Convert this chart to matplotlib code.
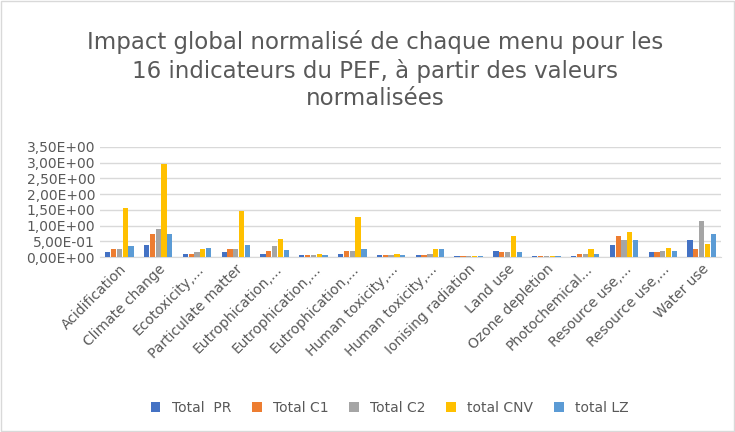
import matplotlib
matplotlib.use("Agg")
import matplotlib.pyplot as plt
import numpy as np
from matplotlib.ticker import FuncFormatter

categories = ["Acidification", "Climate change", "Ecotoxicity,...", "Particulate matter",
              "Eutrophication,...", "Eutrophication,...", "Eutrophication,...",
              "Human toxicity,...", "Human toxicity,...", "Ionising radiation", "Land use",
              "Ozone depletion", "Photochemical...", "Resource use,...", "Resource use,...", "Water use"]
total_pr  = [0.15, 0.38, 0.10, 0.15, 0.10, 0.05, 0.10, 0.05, 0.05, 0.04, 0.20, 0.04, 0.04, 0.38, 0.15, 0.53]
total_c1  = [0.25, 0.73, 0.10, 0.25, 0.20, 0.05, 0.20, 0.05, 0.05, 0.04, 0.15, 0.04, 0.10, 0.68, 0.15, 0.25]
total_c2  = [0.25, 0.88, 0.15, 0.25, 0.35, 0.05, 0.20, 0.05, 0.10, 0.04, 0.15, 0.04, 0.10, 0.53, 0.20, 1.13]
total_cnv = [1.57, 2.95, 0.25, 1.45, 0.58, 0.10, 1.27, 0.10, 0.25, 0.04, 0.68, 0.04, 0.25, 0.78, 0.30, 0.42]
total_lz  = [0.35, 0.73, 0.30, 0.38, 0.22, 0.05, 0.25, 0.05, 0.25, 0.04, 0.15, 0.04, 0.10, 0.53, 0.20, 0.73]
series = [("Total  PR", total_pr, "#4472C4"), ("Total C1", total_c1, "#ED7D31"),
          ("Total C2", total_c2, "#A5A5A5"), ("total CNV", total_cnv, "#FFC000"),
          ("total LZ", total_lz, "#5B9BD5")]

fig = plt.figure(figsize=(7.35, 4.32), dpi=100)
ax = fig.add_axes([0.136, 0.405, 0.845, 0.255])
x = np.arange(len(categories))
w = 0.15
for i, (name, vals, col) in enumerate(series):
    ax.bar(x + (i - 2) * w, vals, w * 0.9, color=col, label=name, zorder=3)
ax.set_ylim(0, 3.5)
ax.set_yticks(np.arange(0, 3.51, 0.5))
def fmt(v, p):
    if v == 0:
        return "0,00E+00"
    s = f"{v:.2E}".replace(".", ",").replace("E-0", "E-0").replace("E+00", "E+00")
    return s
ax.yaxis.set_major_formatter(FuncFormatter(fmt))
ax.set_xlim(-0.5, len(categories) - 0.5)
ax.set_xticks(x)
ax.set_xticklabels(categories, rotation=45, ha="right", rotation_mode="anchor", fontsize=10, color="#595959")
ax.tick_params(axis="y", labelsize=10, labelcolor="#595959", length=0)
ax.tick_params(axis="x", length=0)
ax.grid(axis="y", color="#D9D9D9", linewidth=1, zorder=0)
for s in ["top", "right", "left"]:
    ax.spines[s].set_visible(False)
ax.spines["bottom"].set_color("#D9D9D9")
fig.text(0.51, 0.93, "Impact global normalisé de chaque menu pour les\n16 indicateurs du PEF, à partir des valeurs\nnormalisées",
         ha="center", va="top", fontsize=16.5, color="#595959", linespacing=1.25)
fig.legend(loc="lower center", bbox_to_anchor=(0.53, 0.01), ncol=5, frameon=False, fontsize=10,
           handlelength=0.7, handleheight=0.7, columnspacing=1.5, labelcolor="#595959")
fig.patches.append(plt.Rectangle((0.002, 0.002), 0.996, 0.996, transform=fig.transFigure,
                                 fill=False, edgecolor="#D9D9D9", linewidth=1))
fig.savefig("out.png", dpi=100)
